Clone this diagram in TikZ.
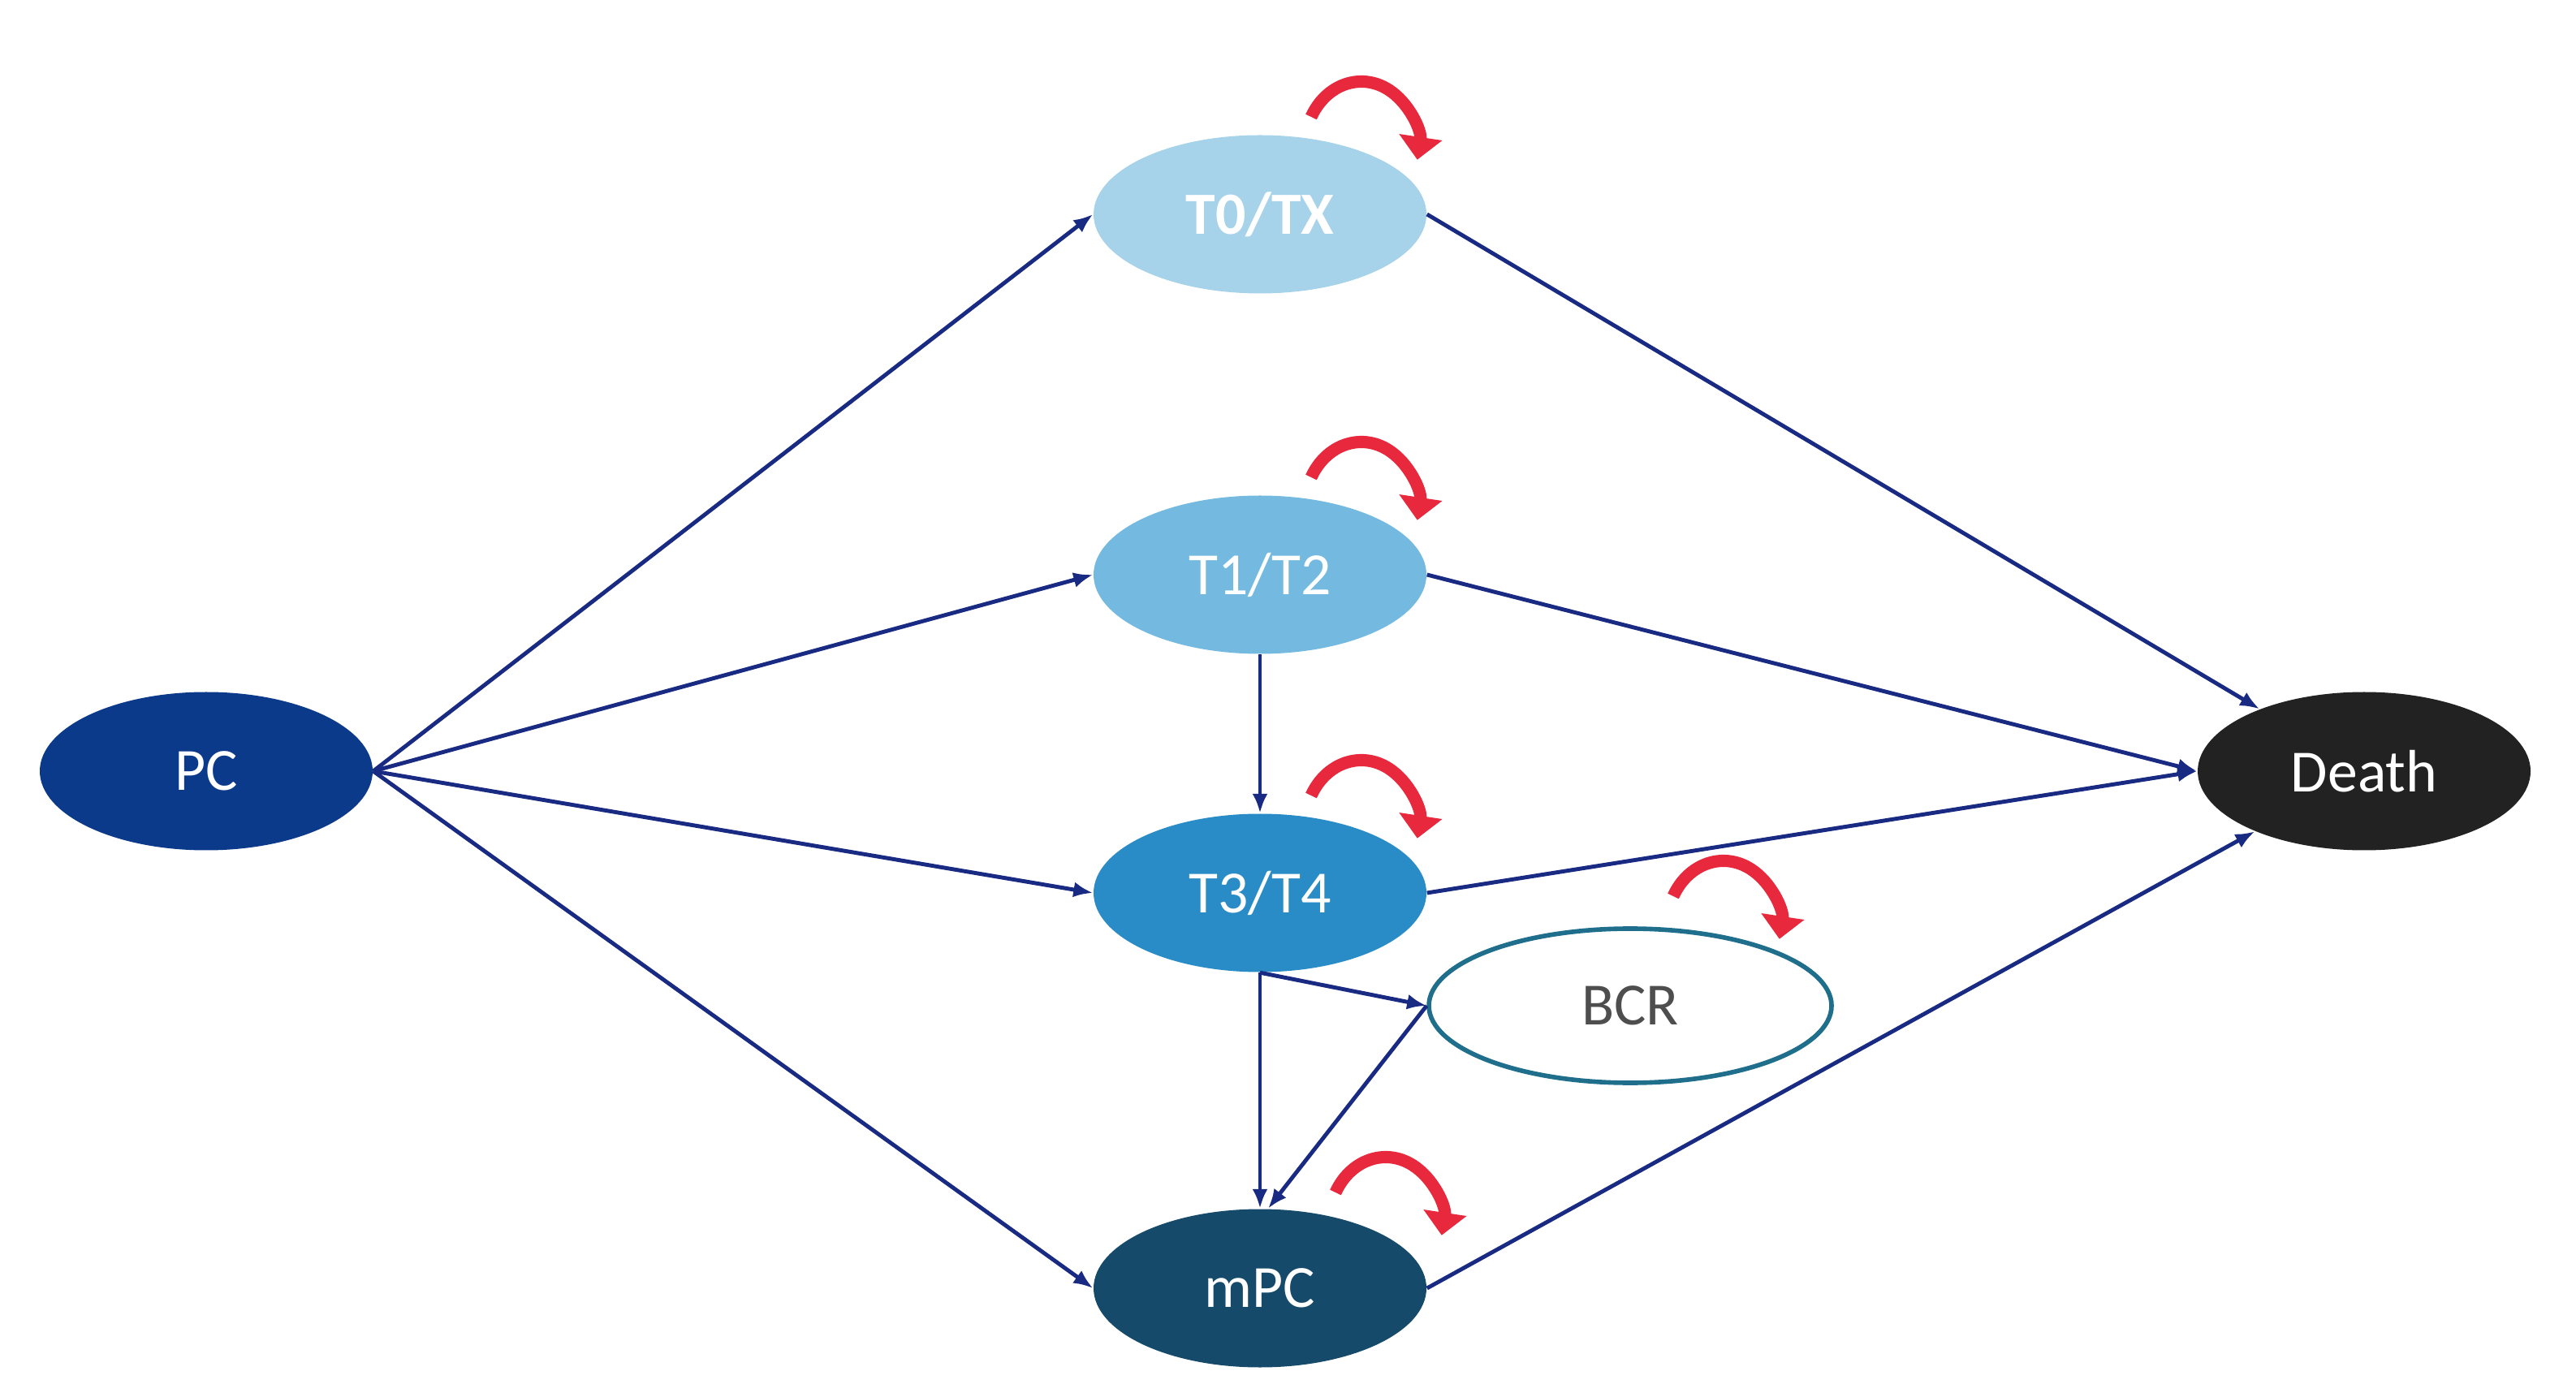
\documentclass[tikz,border=0pt]{standalone}
\usepackage{fontspec}
\setmainfont{Carlito}
\usetikzlibrary{arrows.meta,shapes.geometric}
\definecolor{pcblue}{RGB}{12,58,138}
\definecolor{tzero}{RGB}{166,210,234}
\definecolor{tonetwo}{RGB}{116,186,224}
\definecolor{tthreefour}{RGB}{42,140,198}
\definecolor{mpcblue}{RGB}{22,74,106}
\definecolor{deathgrey}{RGB}{34,34,34}
\definecolor{bcrteal}{RGB}{30,110,140}
\definecolor{linkblue}{RGB}{24,42,130}
\definecolor{loopred}{RGB}{232,40,60}
\begin{document}
\begin{tikzpicture}[
  state/.style={ellipse, minimum width=4.1cm, minimum height=1.95cm, inner sep=0pt,
    text=white, font=\fontsize{21}{25}\selectfont},
  link/.style={draw=linkblue, line width=1.4pt, -{Latex[length=2.4mm,width=1.9mm]}},
  selfloop/.style={draw=loopred, line width=4.3pt, -{Triangle[length=2.8mm,width=5.2mm]}}
]
\useasboundingbox (0,0) rectangle (31.73,17.2);

\node[state, fill=pcblue] (PC) at (2.54,7.70) {PC};
\node[state, fill=tzero, font=\fontsize{21}{25}\selectfont\bfseries] (T0) at (15.52,14.56) {T0/TX};
\node[state, fill=tonetwo] (T12) at (15.52,10.12) {T1/T2};
\node[state, fill=tthreefour] (T34) at (15.52,6.20) {T3/T4};
\node[state, fill=mpcblue] (mPC) at (15.52,1.33) {mPC};
\node[state, fill=deathgrey] (Death) at (29.12,7.70) {Death};
\node[state, draw=bcrteal, line width=1.6pt, fill=white, text=deathgrey!80, minimum width=4.96cm, minimum height=1.9cm] (BCR) at (20.08,4.81) {BCR};

% from PC
\foreach \n in {T0,T12,T34,mPC}
{
    \draw[link] (PC.east)--(\n.west);
}

% to Death
\draw[link] (T0.east)--(Death);
\draw[link] (T12.east)--(Death.west);
\draw[link] (T34.east)--(Death.west);
\draw[link] (mPC.east)--(Death);

\draw[link] (T12.south)--(T34.north);
\draw[link] (T34.south)--(mPC.north);
\draw[link] (T34.south)--(BCR.west);
\draw[link] (BCR.west)--([xshift=1mm]mPC.north);

% staying in the same state
\foreach \n/\dx/\dy in {T0/0.63/1.20,T12/0.63/1.20,T34/0.63/1.20,BCR/0.53/1.35,mPC/0.93/1.18}
{
    \draw[selfloop] ([shift={(\dx,\dy)}]\n.center) arc[start angle=152, end angle=-10, x radius=0.7, y radius=0.82];
}

\end{tikzpicture}
\end{document}
